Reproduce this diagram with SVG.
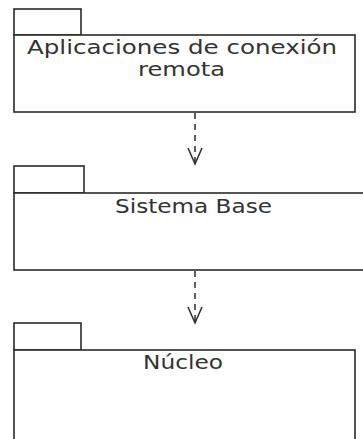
<svg xmlns="http://www.w3.org/2000/svg" width="363" height="439" viewBox="0 0 363 439">
  <style>
    .pkg { fill: #ffffff; stroke: #2b2b2b; stroke-width: 1.6; }
    .lbl { font-family: "DejaVu Sans", Verdana, sans-serif; font-size: 19px; fill: #333333; text-anchor: middle; }
    .dep { fill: none; stroke: #2b2b2b; stroke-width: 1.5; stroke-dasharray: 6 5; }
    .head { fill: none; stroke: #2b2b2b; stroke-width: 1.5; stroke-linejoin: miter; }
  </style>
  <rect x="0" y="0" width="363" height="439" fill="#ffffff"/>
  <g id="node-aplicaciones">
    <rect class="pkg" x="14" y="9" width="67" height="26"/>
    <rect class="pkg" x="14" y="35" width="341" height="77"/>
    <text class="lbl" x="182" y="53.5" textLength="310" lengthAdjust="spacingAndGlyphs">Aplicaciones de conexión</text>
    <text class="lbl" x="181.5" y="75.5" textLength="87" lengthAdjust="spacingAndGlyphs">remota</text>
  </g>
  <g id="node-sistema-base">
    <rect class="pkg" x="14" y="166" width="70" height="27"/>
    <rect class="pkg" x="14" y="193" width="360" height="77"/>
    <text class="lbl" x="193.5" y="212.5" textLength="157" lengthAdjust="spacingAndGlyphs">Sistema Base</text>
  </g>
  <g id="node-nucleo">
    <rect class="pkg" x="14" y="323" width="67" height="27"/>
    <rect class="pkg" x="14" y="350" width="341" height="100"/>
    <text class="lbl" x="183" y="369" textLength="80" lengthAdjust="spacingAndGlyphs">Núcleo</text>
  </g>
  <g id="connectors">
    <line class="dep" x1="195" y1="113" x2="195" y2="163"/>
    <polyline class="head" points="188,148 195,164 202,148"/>
    <line class="dep" x1="195" y1="271" x2="195" y2="321"/>
    <polyline class="head" points="188,307 195,323 202,307"/>
  </g>
</svg>
